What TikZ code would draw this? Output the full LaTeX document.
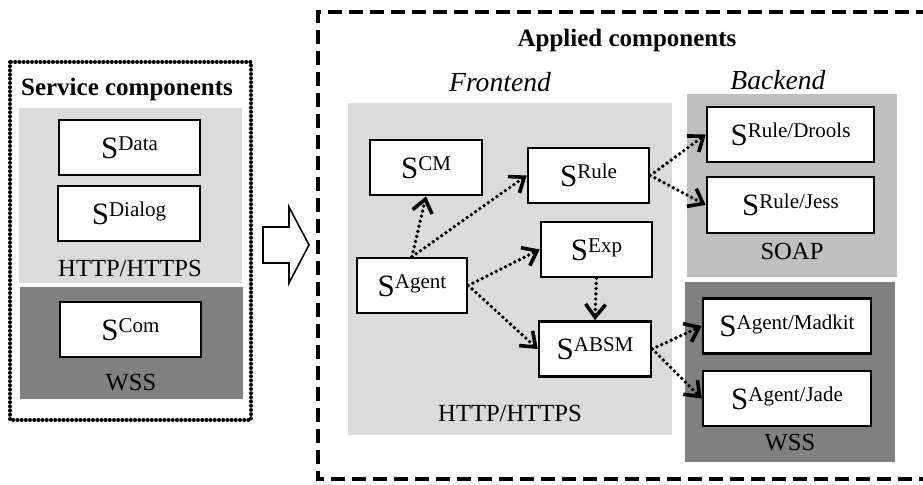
\documentclass[tikz,border=0pt]{standalone}
\usepackage{fontspec}
\setmainfont{Liberation Serif}
\usetikzlibrary{arrows.meta}
\newcommand{\Sx}[1]{{\fontsize{15.5}{16}\selectfont S}\raisebox{3.8pt}{\fontsize{10.5}{11}\selectfont #1}}

\begin{document}
\begin{tikzpicture}[x=0.5pt, y=-0.5pt,
	comp/.style={draw, line width=1.3pt, fill=white, inner sep=0pt, minimum height=27.5pt},
	lbl/.style={font=\fontsize{12.3}{13}\selectfont, inner sep=0pt},
	side/.style={font=\fontsize{13.8}{14}\selectfont\itshape, inner sep=0pt},
	head/.style={font=\fontsize{12.5}{13}\selectfont\bfseries, inner sep=0pt},
	flow/.style={line width=1.9pt, dash pattern=on 0pt off 2.6pt, line cap=round,
		-{Straight Barb[length=6.5pt, width=10pt, line width=1.8pt]}}]
	%%%%% START %%%%%
	\useasboundingbox (0, 0) rectangle (923, 485);
	
	% service components
	\draw[line width=2pt, dash pattern=on 0pt off 2.1pt, line cap=round] (10, 62) rectangle (251, 420);
	\fill[black!14] (19, 108) rectangle (242, 283);
	\fill[black!50] (20, 287) rectangle (243, 399);
	\node[head] (svc) at (127, 89) {Service components};
	\node[comp, minimum width=70.5pt] (sdata) at (129.5, 147.5) {\Sx{Data}};
	\node[comp, minimum width=71pt] (sdialog) at (129, 213.5) {\Sx{Dialog}};
	\node[lbl] (shttp) at (130, 268) {HTTP/HTTPS};
	\node[comp, minimum width=70.5pt] (scom) at (130.5, 329.5) {\Sx{Com}};
	\node[lbl] (swss) at (131, 383) {WSS};
	
	% big arrow
	\draw[line width=0.8pt] (263, 227) -- (289, 227) -- (289, 207) -- (309, 245)
		-- (289, 283) -- (289, 263) -- (263, 263) -- cycle;
	
	% applied components
	\draw[line width=1.8pt, dash pattern=on 7pt off 3.5pt] (930, 12) -- (318, 12) -- (318, 479) -- (930, 479);
	\node[head] (app) at (627, 40) {Applied components};
	\node[side] (front) at (500, 82) {Frontend};
	\node[side] (back) at (778, 80) {Backend};
	
	\fill[black!14] (348, 103) rectangle (672, 435);
	\fill[black!25] (687, 94) rectangle (897, 277);
	\fill[black!50] (685, 282) rectangle (895, 462);
	\node[lbl] (fhttp) at (510, 413) {HTTP/HTTPS};
	\node[lbl] (soap) at (792, 251) {SOAP};
	\node[lbl] (bwss) at (790, 443) {WSS};
	
	\node[comp, minimum width=56pt] (scm) at (426, 167.5) {\Sx{CM}};
	\node[comp, minimum width=60.5pt] (srule) at (588.5, 175.5) {\Sx{Rule}};
	\node[comp, minimum width=55.5pt] (sexp) at (596.5, 249.5) {\Sx{Exp}};
	\node[comp, minimum width=55pt] (sagent) at (412, 285.5) {\Sx{Agent}};
	\node[comp, minimum width=56pt] (sabsm) at (595, 349) {\Sx{ABSM}};
	
	\node[comp, minimum width=83.5pt] (sdrools) at (790.5, 134.5) {\Sx{Rule/Drools}};
	\node[comp, minimum width=83.5pt, minimum height=28pt] (sjess) at (790.5, 205) {\Sx{Rule/Jess}};
	\node[comp, minimum width=84pt] (smadkit) at (787, 326) {\Sx{Agent/Madkit}};
	\node[comp, minimum width=84pt] (sjade) at (787, 398.5) {\Sx{Agent/Jade}};
	
	% calls
	\draw[flow] (sagent.north) -- (scm.south);
	\draw[flow] (sagent.north) -- (srule.west);
	\draw[flow] (sagent.east) -- (sexp.west);
	\draw[flow] (sagent.east) -- (sabsm.west);
	\draw[flow] (sexp.south) -- (sabsm.north);
	\draw[flow] (srule.east) -- (sdrools.west);
	\draw[flow] (srule.east) -- (sjess.west);
	\draw[flow] (sabsm.east) -- (smadkit.west);
	\draw[flow] (sabsm.east) -- (sjade.west);
	
	%%%%% END %%%%%
\end{tikzpicture}
\end{document}
